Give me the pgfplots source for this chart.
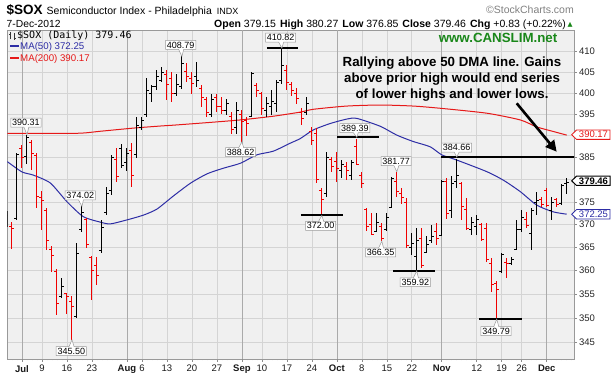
\documentclass[border=0pt]{standalone}
\usepackage{pgfplots}
\pgfplotsset{compat=1.18}
\usepackage{pgfplotstable}
\usetikzlibrary{shapes.callouts,arrows.meta}
\usepackage{fontspec}
\setmainfont{Liberation Sans}
\newfontfamily\monofont{DejaVu Sans Mono}
\newfontfamily\dejavu{DejaVu Sans}

\definecolor{ma50}{RGB}{45,45,165}
\definecolor{ma200}{RGB}{230,25,25}
\definecolor{barred}{RGB}{240,0,0}
\definecolor{cgreen}{RGB}{25,135,25}
\definecolor{bggray}{RGB}{240,240,240}
\definecolor{gridgray}{RGB}{212,212,212}
\definecolor{monthgrid}{RGB}{170,170,170}

\pgfdeclareplotmark{otick}{\pgfpathmoveto{\pgfpoint{-2.5bp}{0bp}}\pgfpathlineto{\pgfpoint{0.4bp}{0bp}}\pgfusepathqstroke}
\pgfdeclareplotmark{ctick}{\pgfpathmoveto{\pgfpoint{-0.4bp}{0bp}}\pgfpathlineto{\pgfpoint{2.5bp}{0bp}}\pgfusepathqstroke}

\newcommand\fs[1]{\fontsize{#1bp}{#1bp}\selectfont}
\tikzset{callbox/.style={rectangle callout, draw=black!40, fill=white, inner sep=1.3bp,
     font=\fs{9}, text=black, callout pointer width=5bp, line width=0.5bp}}

% i = trading day index (0 = 2-Jul-2012); up days (close above prior close)
\pgfplotstableread{
i o h l c
-3 370.0 373.0 369.5 371.9
-1 371.2 386.0 370.9 385.6
1 385.2 390.31 383.5 389.6
8 354.5 358.5 354.1 356.5
11 350.4 366.0 350.0 363.8
12 368.8 374.02 368.4 372.6
16 364.4 371.0 363.8 369.3
17 372.6 378.4 372.1 377.0
18 377.5 385.6 376.5 385.0
20 387.0 388.1 382.6 383.3
21 384.0 387.2 382.0 386.0
23 385.6 394.4 384.9 392.5
24 392.0 394.4 391.4 393.5
25 395.0 403.6 394.4 400.5
26 400.0 402.0 397.9 401.5
27 401.5 405.5 400.8 404.0
28 403.0 406.3 402.6 405.0
31 400.0 404.5 399.5 402.0
32 401.5 408.79 401.0 407.0
35 404.0 407.5 401.5 403.0
38 395.0 399.9 394.4 398.5
41 396.0 398.7 394.8 397.5
43 392.0 397.9 390.5 396.0
46 394.6 405.1 394.4 404.7
49 396.0 399.1 394.4 397.5
50 397.0 400.7 394.8 398.0
51 397.5 403.0 395.6 402.6
52 402.9 410.82 402.2 406.7
57 395.6 399.1 394.9 397.5
61 377.0 386.4 376.2 385.0
64 382.0 384.5 380.3 383.5
66 381.0 384.5 379.9 384.0
71 368.5 372.5 368.4 370.5
73 368.8 372.5 368.6 371.5
74 373.8 380.5 373.6 380.3
78 365.0 368.1 363.4 365.8
79 363.0 369.2 359.92 366.5
81 364.0 367.4 363.8 365.6
82 366.5 369.9 365.9 367.4
84 367.6 379.9 367.4 379.5
86 373.0 380.7 371.4 379.0
87 379.5 384.66 378.1 381.0
90 369.0 371.7 367.7 370.5
91 369.5 372.1 367.7 371.0
96 359.8 363.8 359.5 363.5
98 361.6 363.0 361.3 362.4
99 364.6 371.0 364.5 368.8
100 369.0 373.2 368.3 371.5
102 368.0 373.6 364.5 373.0
103 374.8 377.3 372.1 375.3
106 373.0 376.2 371.0 374.8
108 374.7 379.0 374.3 378.63
109 379.15 380.27 376.85 379.46
}\soxup

% down days (close below prior close)
\pgfplotstableread{
i o h l c
-2 369.6 370.6 364.6 369.2
0 387.0 387.9 382.6 384.9
2 388.5 389.0 382.2 386.0
3 385.5 386.0 373.6 376.1
4 376.0 377.4 368.8 375.4
5 373.0 373.6 364.5 366.6
6 364.5 365.3 359.7 363.3
7 359.8 360.4 350.6 353.0
9 355.1 355.3 350.9 354.4
10 353.5 354.6 345.50 352.5
13 371.0 371.5 364.9 365.7
14 362.8 363.2 353.7 360.0
15 361.0 363.0 357.0 359.0
19 384.5 387.2 379.5 380.8
22 386.7 388.3 378.4 381.0
29 404.5 405.6 398.4 402.0
30 403.5 405.0 397.9 399.9
33 405.2 407.1 402.7 403.9
34 403.5 405.1 399.9 402.3
36 401.0 401.9 396.7 399.1
37 398.5 399.1 394.4 395.5
39 399.0 399.9 395.6 397.0
40 397.0 399.1 395.2 396.0
42 394.5 395.6 390.5 391.5
44 395.0 396.0 388.62 393.4
45 393.5 394.3 390.0 392.8
47 401.9 402.3 399.1 400.5
48 400.0 400.3 394.8 396.5
53 405.5 406.7 400.7 402.6
54 402.0 402.6 399.5 400.5
55 400.0 401.1 397.5 398.7
56 395.5 396.5 392.6 394.0
58 391.0 392.1 388.0 389.0
59 390.5 391.8 379.2 380.0
60 377.5 378.1 372.00 375.5
62 384.5 385.2 381.8 383.0
63 384.1 386.4 379.5 382.6
65 383.0 384.1 379.9 382.0
67 387.5 389.39 383.3 383.5
68 381.0 381.8 378.1 379.0
69 373.2 373.6 368.5 369.5
70 370.0 372.5 367.7 367.9
72 369.5 370.3 366.35 367.0
75 379.5 381.77 376.1 377.3
76 377.0 378.0 374.5 376.0
77 375.0 375.8 364.8 365.3
80 367.0 369.2 360.5 361.0
83 368.5 370.3 365.5 367.0
85 379.5 380.3 371.3 372.5
88 379.2 379.5 371.0 373.9
89 373.2 375.8 368.8 369.2
92 370.0 370.3 366.3 366.7
93 369.2 370.3 361.8 362.3
94 361.5 362.7 355.5 357.0
95 357.2 357.7 349.79 356.0
97 361.7 362.8 358.5 361.5
101 371.0 372.8 369.2 369.8
104 375.5 376.2 373.9 374.5
105 377.5 378.0 373.9 374.2
107 375.5 375.8 373.9 374.4
}\soxdn

\begin{document}
\begin{tikzpicture}
\path[use as bounding box] (0bp,0bp) rectangle (614bp,378bp);
\begin{axis}[
  at={(7.3bp,19bp)}, anchor=south west,
  scale only axis, width=566.7bp, height=329bp,
  ymode=log, ymin=341.6, ymax=415.3,
  xmin=-2.94, xmax=110.46,
  axis background/.style={fill=bggray},
  axis line style={black!40, line width=0.7bp},
  grid=major, major grid style={gridgray, line width=0.6bp},
  ytick={345,350,355,360,365,370,375,380,385,390,395,400,405,410},
  yticklabels={345,350,355,360,365,370,375,,385,,395,400,405,410},
  yminorticks=false,
  yticklabel pos=right, ytick pos=right, xtick pos=left,
  tick align=outside, major tick length=3bp, minor tick length=1.5bp,
  tick style={black!45, line width=0.6bp},
  yticklabel style={font=\fs{9.5}, text=black!85, xshift=-1.5bp},
  xticklabel style={font=\fs{9.5}, text=black!90},
  xtick={4,9,14,24,29,34,39,48,53,58,68,73,78,91,96,100},
  xticklabels={9,16,23,6,13,20,27,10,17,24,8,15,22,12,19,26},
  minor xtick={-2,-1,...,110},
  extra x ticks={0,21,44,63,84,105},
  extra x tick labels={\textbf{Jul},\textbf{Aug},\textbf{Sep},\textbf{Oct},\textbf{Nov},\textbf{Dec}},
  extra x tick style={major grid style={monthgrid, line width=0.6bp}},
]
% moving averages
\addplot[ma200, line width=1bp, smooth, tension=0.4] coordinates {
(-2.94,390.6) (11,390.6) (15.66,391.1) (22.3,391.8) (27.7,392.3) (30.3,392.5)
(37,393.07) (43.7,393.7) (50.3,394.6) (55.7,395.6) (58.3,396.2) (65,397.0)
(71.7,397.2) (78.3,397.0) (84,396.4) (93,395.3) (99.7,393.7) (103,392.1)
(106.3,391.0) (109,390.17)};
\addplot[ma50, line width=1bp, smooth, tension=0.4] coordinates {
(-2.94,384.07) (0,381.75) (2.26,381.0) (5.66,379.24) (9,375.04) (12.26,371.74)
(15.66,370.5) (17.66,370.13) (21,371.0) (24.3,372.1) (27,373.4) (30.3,376.3)
(33.7,379.17) (37,381.27) (40.3,382.57) (43.7,383.7) (47,385.6) (50.3,386.5)
(53.7,388.3) (55.7,389.4) (58.3,391.4) (61.7,392.9) (65,393.9) (67,394.1)
(71.7,392.2) (75,390.2) (78.3,388.7) (81.7,387.5) (84,385.6) (87,384.45)
(93,381.8) (96.3,379.9) (99.7,377.3) (103,374.3) (106.3,372.8) (109,372.25)};

% OHLC bars: high-low line + close tick
\addplot[black, only marks, mark=ctick, mark options={line width=1bp},
  error bars/.cd, y dir=both, y explicit, error mark=none,
  error bar style={line width=1bp, black}]
  table[x=i, y=c, y error plus expr=\thisrow{h}-\thisrow{c},
        y error minus expr=\thisrow{c}-\thisrow{l}] {\soxup};
\addplot[barred, only marks, mark=ctick, mark options={line width=1bp},
  error bars/.cd, y dir=both, y explicit, error mark=none,
  error bar style={line width=1bp, barred}]
  table[x=i, y=c, y error plus expr=\thisrow{h}-\thisrow{c},
        y error minus expr=\thisrow{c}-\thisrow{l}] {\soxdn};
% open ticks
\addplot[black, only marks, mark=otick, mark options={line width=1bp}] table[x=i, y=o] {\soxup};
\addplot[barred, only marks, mark=otick, mark options={line width=1bp}] table[x=i, y=o] {\soxdn};

% horizontal reference lines
\draw[line width=2bp] (axis cs:49,410.82) -- (axis cs:55.3,410.82);
\draw[line width=2bp] (axis cs:63.1,389.7) -- (axis cs:71.5,389.7);
\draw[line width=2bp] (axis cs:55.8,372.0) -- (axis cs:64.3,372.0);
\draw[line width=2bp] (axis cs:74.3,359.92) -- (axis cs:82.7,359.92);
\draw[line width=2bp] (axis cs:91.5,349.79) -- (axis cs:100,349.79);
\draw[line width=2bp] (axis cs:83.8,385.1) -- (axis cs:111,385.1);

% value callouts
\node[callbox, callout absolute pointer={(axis cs:1,390.31)}] at (axis cs:0.8,393.1) {390.31};
\node[callbox, callout absolute pointer={(axis cs:12,374.02)}] at (axis cs:11.66,376.5) {374.02};
\node[callbox, callout absolute pointer={(axis cs:10,345.5)}] at (axis cs:9.86,343.2) {345.50};
\node[callbox, callout absolute pointer={(axis cs:32,408.79)}] at (axis cs:31.76,411.6) {408.79};
\node[callbox, callout absolute pointer={(axis cs:44,388.62)}] at (axis cs:43.76,386.24) {388.62};
\node[callbox, callout absolute pointer={(axis cs:52,410.82)}] at (axis cs:51.76,413.4) {410.82};
\node[callbox, callout absolute pointer={(axis cs:67,389.7)}] at (axis cs:66.6,391.8) {389.39};
\node[callbox, callout absolute pointer={(axis cs:60,372.0)}] at (axis cs:59.76,369.7) {372.00};
\node[callbox, callout absolute pointer={(axis cs:75,381.77)}] at (axis cs:74.86,384.2) {381.77};
\node[callbox, callout absolute pointer={(axis cs:72,366.35)}] at (axis cs:71.76,363.9) {366.35};
\node[callbox, callout absolute pointer={(axis cs:79,359.92)}] at (axis cs:78.7,357.5) {359.92};
\node[callbox, callout absolute pointer={(axis cs:87,385.1)}] at (axis cs:86.96,387.3) {384.66};
\node[callbox, callout absolute pointer={(axis cs:95,349.79)}] at (axis cs:94.86,347.3) {349.79};
\end{axis}

% header
\node[anchor=base west, inner sep=0] at (6.5bp,363bp)
  {\fs{13.5}\bfseries \$SOX\hspace{4bp}\mdseries\fs{10.5}Semiconductor Index - Philadelphia\hspace{5bp}\fs{9}INDX};
\node[anchor=base west, inner sep=0] at (6.5bp,350.7bp) {\fs{10.3}7-Dec-2012};
\node[anchor=base east, inner sep=0] at (566bp,350.7bp)
  {\fs{10.5}\textbf{Open} 379.15\hspace{4bp}\textbf{High} 380.27\hspace{4bp}\textbf{Low} 376.85\hspace{4bp}\textbf{Close} 379.46\hspace{4bp}\textbf{Chg} +0.83 (+0.22\%)};
\node[anchor=base west, inner sep=0, text=cgreen] at (567.5bp,351.5bp) {\dejavu\fs{6.5}▲};
\node[anchor=base east, inner sep=0, text=black!50] at (574bp,364bp) {\fs{10.5}©StockCharts.com};

% legend
\draw[black!80, line width=0.7bp] (10.5bp,338.5bp) -- (10.5bp,345.5bp) (9bp,344bp) -- (10.5bp,344bp)
  (14bp,338bp) -- (14bp,345bp) (14bp,339.5bp) -- (15.5bp,339.5bp);
\node[anchor=base west, inner sep=0] at (17bp,339bp) {\monofont\fs{10}\$SOX (Daily) 379.46};
\draw[ma50, line width=2bp] (10bp,331.5bp) -- (18.5bp,331.5bp);
\node[anchor=base west, inner sep=0, text=ma50] at (20bp,328bp) {\fs{9.7}MA(50) 372.25};
\draw[ma200, line width=2bp] (10bp,320bp) -- (18.5bp,320bp);
\node[anchor=base west, inner sep=0, text=ma200] at (20bp,316.5bp) {\fs{9.7}MA(200) 390.17};

% annotation text
\node[text=cgreen, font=\bfseries\fs{13.3}] at (498bp,340bp) {www.CANSLIM.net};
\node[align=center, font=\bfseries\fontsize{13.3bp}{16bp}\selectfont] at (452bp,299bp)
  {Rallying above 50 DMA line. Gains\\above prior high would end series\\of lower highs and lower lows.};
\draw[line width=2.6bp, -{Triangle[length=11bp,width=11bp]}] (516.7bp,274.7bp) -- (556.7bp,226.3bp);

% right-side value flags
\draw[ma200, fill=white, line width=0.8bp] (571.7bp,243.3bp) -- (576.5bp,248bp) -- (610bp,248bp) -- (610bp,238.6bp) -- (576.5bp,238.6bp) -- cycle;
\node[text=ma200, font=\fs{9.5}] at (593.5bp,243.3bp) {390.17};
\draw[black, fill=white, line width=1bp] (571.7bp,197.2bp) -- (576.5bp,201.9bp) -- (610bp,201.9bp) -- (610bp,192.5bp) -- (576.5bp,192.5bp) -- cycle;
\node[text=black, font=\bfseries\fs{9.5}] at (593.5bp,197.2bp) {379.46};
\draw[ma50, fill=white, line width=0.8bp] (571.7bp,163.7bp) -- (576.5bp,168.4bp) -- (610bp,168.4bp) -- (610bp,159bp) -- (576.5bp,159bp) -- cycle;
\node[text=ma50, font=\fs{9.5}] at (593.5bp,163.7bp) {372.25};
\end{tikzpicture}
\end{document}
